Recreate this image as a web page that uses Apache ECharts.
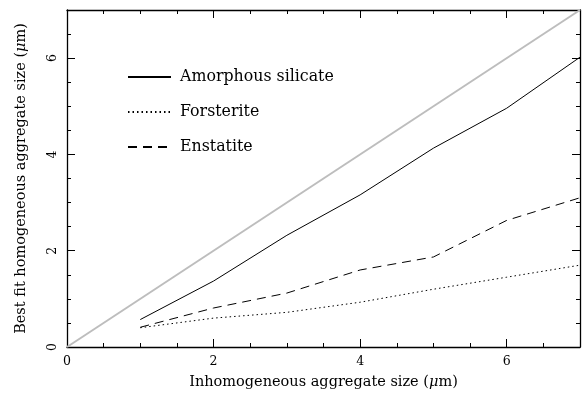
<!DOCTYPE html>
<html>
<head>
<meta charset="UTF-8">
<script src="https://cdn.jsdelivr.net/npm/echarts@6/dist/echarts.min.js"></script>
<style>
  body { margin: 0; background: #fff; }
  #chart { width: 584px; height: 398px; }
</style>
</head>
<body>
<div id="chart"></div>
<script>
  // sizes in micron
  var sizes = [1, 2, 3, 4, 5, 6, 7];
  var amorphous = [0.57, 1.37, 2.32, 3.16, 4.13, 4.96, 6.02];
  var forsterite = [0.40, 0.60, 0.72, 0.93, 1.20, 1.45, 1.70];
  var enstatite = [0.41, 0.81, 1.12, 1.60, 1.87, 2.63, 3.10];
  var oneToOne = [[0, 0], [7, 7]];

  function pairs(ys) {
    return sizes.map(function (x, i) { return [x, ys[i]]; });
  }

  var font = 'DejaVu Serif';

  // frame axis: ticks inside, minor tick every 0.5, labels every 2
  function axis(extra) {
    return Object.assign({
      type: 'value', min: 0, max: 7, interval: 2,
      axisLine: { onZero: false, lineStyle: { color: '#000', width: 1.3 } },
      axisTick: { inside: true, length: 8, lineStyle: { color: '#000', width: 1 } },
      minorTick: { show: true, splitNumber: 4, length: 4, lineStyle: { color: '#000', width: 1 } },
      splitLine: { show: false }, minorSplitLine: { show: false }
    }, extra);
  }

  var nameStyle = { fontFamily: font, fontSize: 14.5, color: '#000',
    rich: { i: { fontFamily: font, fontSize: 14.5, fontStyle: 'italic' } } };

  var chart = echarts.init(document.getElementById('chart'));
  chart.setOption({
    animation: false,
    textStyle: { fontFamily: font },
    grid: { left: 67, right: 4, top: 10, bottom: 51 },
    legend: {
      orient: 'vertical',
      left: 122, top: 64,
      itemWidth: 43, itemHeight: 14, itemGap: 19,
      itemStyle: { opacity: 0 },
      textStyle: { fontFamily: font, fontSize: 15.8, color: '#000', padding: [0, 0, 0, 4] },
      data: ['Amorphous silicate', 'Forsterite', 'Enstatite']
    },
    xAxis: [
      axis({
        position: 'bottom',
        name: 'Inhomogeneous aggregate size ({i|μ}m)',
        nameLocation: 'middle', nameGap: 28,
        nameTextStyle: nameStyle,
        axisLabel: { color: '#000', fontFamily: font, fontSize: 12.5, margin: 8,
          formatter: function (v) { return v === 7 ? '' : v; } }
      }),
      axis({ position: 'top', axisLabel: { show: false } })
    ],
    yAxis: [
      axis({
        position: 'left',
        name: 'Best fit homogeneous aggregate size ({i|μ}m)',
        nameLocation: 'middle', nameGap: 38,
        nameTextStyle: nameStyle,
        axisLabel: { color: '#000', fontFamily: font, fontSize: 12.5, rotate: 90, margin: 8,
          formatter: function (v) { return v === 7 ? '' : v; } }
      }),
      axis({ position: 'right', axisLabel: { show: false } })
    ],
    series: [
      {
        name: 'one-to-one', type: 'line', data: oneToOne, symbol: 'none',
        lineStyle: { color: '#bdbdbd', width: 2 }, silent: true
      },
      {
        name: 'Amorphous silicate', type: 'line', data: pairs(amorphous), symbol: 'none',
        lineStyle: { color: '#000', width: 1, type: 'solid' }, itemStyle: { color: '#000' }
      },
      {
        name: 'Forsterite', type: 'line', data: pairs(forsterite), symbol: 'none',
        lineStyle: { color: '#000', width: 1, type: [1.5, 3] }, itemStyle: { color: '#000' }
      },
      {
        name: 'Enstatite', type: 'line', data: pairs(enstatite), symbol: 'none',
        lineStyle: { color: '#000', width: 1, type: [9, 6] }, itemStyle: { color: '#000' }
      }
    ]
  });
</script>
</body>
</html>
